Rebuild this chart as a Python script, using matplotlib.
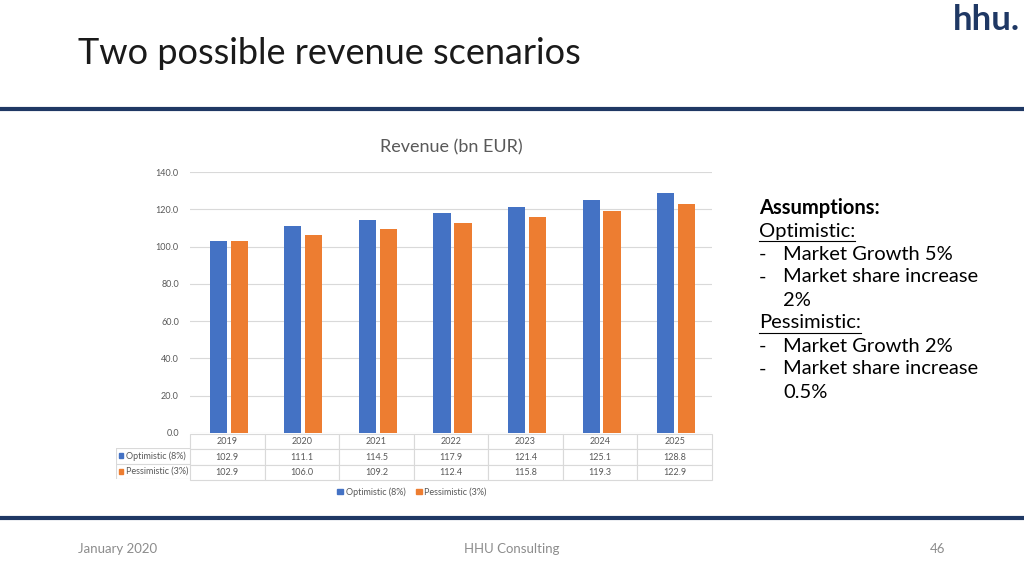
import numpy as np
import matplotlib.pyplot as plt
from matplotlib.lines import Line2D
from matplotlib.patches import Patch

years = ['2019', '2020', '2021', '2022', '2023', '2024', '2025']
optimistic = [102.9, 111.1, 114.5, 117.9, 121.4, 125.1, 128.8]
pessimistic = [102.9, 106.0, 109.2, 112.4, 115.8, 119.3, 122.9]
series_names = ['Optimistic (8%)', 'Pessimistic (3%)']

blue = '#4472C4'
orange = '#ED7D31'
navy = '#1F3864'
grey_txt = '#595959'

plt.rcParams['font.family'] = ['Lato', 'DejaVu Sans']

fig = plt.figure(figsize=(10.24, 5.76), dpi=100)

# slide decorations
fig.text(78 / 1024, 1 - 53 / 576, 'Two possible revenue scenarios', fontsize=26,
         color='#1a1a1a', va='center', ha='left')
fig.text(1020 / 1024, 1 - 20 / 576, 'hhu.', fontsize=25, color=navy,
         fontweight='bold', ha='right', va='center')
fig.add_artist(Line2D([0, 1], [1 - 109 / 576] * 2, color=navy, lw=3))
fig.add_artist(Line2D([0, 1], [1 - 518 / 576] * 2, color=navy, lw=3))
fig.text(78 / 1024, 1 - 549 / 576, 'January 2020', fontsize=9.5, color='#8c8c8c', va='center')
fig.text(512 / 1024, 1 - 549 / 576, 'HHU Consulting', fontsize=9.5, color='#8c8c8c',
         va='center', ha='center')
fig.text(945 / 1024, 1 - 549 / 576, '46', fontsize=9.5, color='#8c8c8c', va='center', ha='right')

# chart
ax = fig.add_axes([190 / 1024, 1 - 433 / 576, 522 / 1024, 261 / 576])
x = np.arange(len(years))
w = 0.23
ax.bar(x - 0.12, optimistic, w, color=blue, zorder=3)
ax.bar(x + 0.16, pessimistic, w, color=orange, zorder=3)
ax.set_xlim(-0.5, len(years) - 0.5)
ax.set_ylim(0, 140)
ax.set_yticks(np.arange(0, 141, 20))
ax.set_yticklabels([f'{v:.1f}' for v in np.arange(0, 141, 20)], fontsize=6.5, color=grey_txt)
ax.set_xticks([])
ax.tick_params(axis='y', length=0, pad=8)
ax.grid(axis='y', color='#d9d9d9', lw=0.8, zorder=0)
for s in ax.spines.values():
    s.set_visible(False)
ax.set_title('Revenue (bn EUR)', fontsize=13, color=grey_txt, pad=14)

# data table under chart
cells = [years,
         [f'{v:.1f}' for v in optimistic],
         [f'{v:.1f}' for v in pessimistic]]
tab = ax.table(cellText=cells, cellLoc='center',
               bbox=[0, -47 / 261, 1, 46 / 261])
tab.auto_set_font_size(False)
for (r, c), cell in tab.get_celld().items():
    cell.set_edgecolor('#d9d9d9')
    cell.set_linewidth(0.8)
    cell.get_text().set_fontsize(6.5)
    cell.get_text().set_color(grey_txt)

# row labels with colour keys
lab_ax = fig.add_axes([116 / 1024, 1 - 479 / 576, 74 / 1024, 31 / 576])
lab_ax.set_xlim(0, 1)
lab_ax.set_ylim(0, 2)
lab_ax.axis('off')
for i, (name, col) in enumerate(zip(series_names, [blue, orange])):
    yy = 1.5 - i
    lab_ax.add_patch(plt.Rectangle((0.04, yy - 0.17), 0.06, 0.34, color=col))
    lab_ax.text(0.13, yy, name, fontsize=6.5, color=grey_txt, va='center')
    lab_ax.add_artist(Line2D([0, 1], [yy + 0.5] * 2, color='#d9d9d9', lw=0.8))
lab_ax.add_artist(Line2D([0, 1], [0, 0], color='#d9d9d9', lw=0.8))
lab_ax.add_artist(Line2D([0, 0], [0, 2], color='#d9d9d9', lw=0.8))

fig.legend(handles=[Patch(color=blue, label=series_names[0]),
                    Patch(color=orange, label=series_names[1])],
           loc='center', bbox_to_anchor=(412 / 1024, 1 - 492 / 576), ncol=2,
           frameon=False, fontsize=6.5, handlelength=0.6, handleheight=0.6,
           handletextpad=0.3, columnspacing=1.2, labelcolor=grey_txt)

# assumptions text
tx = 759 / 1024
heads = ['Assumptions:', 'Optimistic:', '-', '-', '', 'Pessimistic:', '-', '-', '']
weights = ['bold', 'normal', 'normal', 'normal', 'normal', 'normal', 'normal', 'normal', 'normal']
underline = [False, True, False, False, False, True, False, False, False]
body = ['', '', 'Market Growth 5%', 'Market share increase', '2%',
        '', 'Market Growth 2%', 'Market share increase', '0.5%']
fig.canvas.draw()
for i in range(len(heads)):
    yy = 1 - (208 + i * 23) / 576
    if heads[i]:
        tt = fig.text(tx, yy, heads[i], fontsize=14.5, fontweight=weights[i],
                      color='black', va='center')
        if underline[i]:
            bb = tt.get_window_extent(renderer=fig.canvas.get_renderer())
            fig.add_artist(Line2D([bb.x0 / 1024, bb.x1 / 1024],
                                  [(bb.y0 - 1) / 576] * 2, color='black', lw=0.8))
    if body[i]:
        fig.text(783 / 1024, yy, body[i], fontsize=14.5, color='black', va='center')

fig.savefig('out.png', dpi=100)
